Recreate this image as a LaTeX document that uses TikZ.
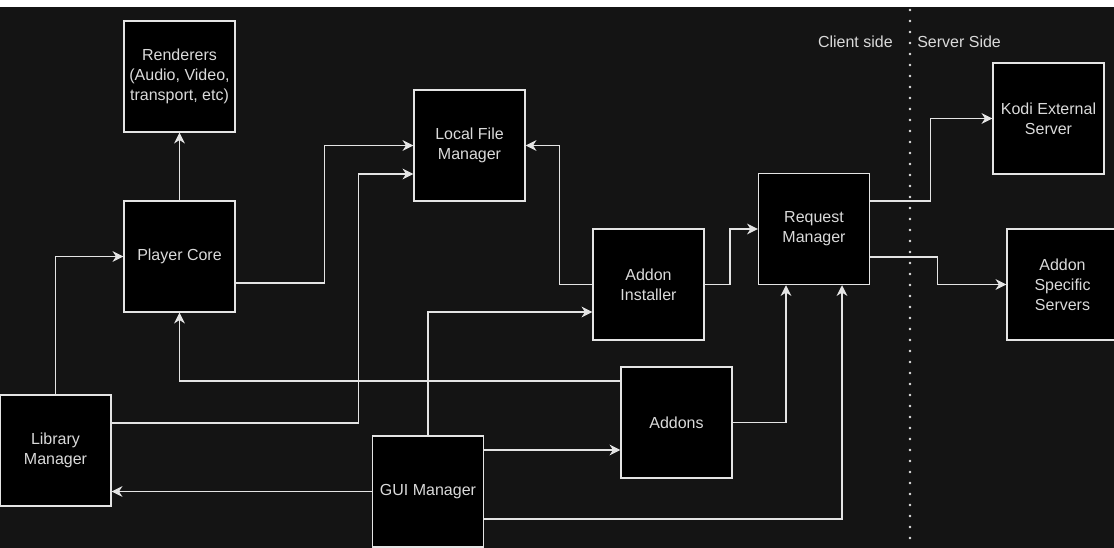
\documentclass[tikz,border=0pt]{standalone}
\usepackage{fontspec}
\setmainfont{Liberation Sans}
\usetikzlibrary{arrows.meta,calc,positioning}
\definecolor{kodibg}{RGB}{20,20,20}
\definecolor{kodiline}{RGB}{228,228,228}
\definecolor{koditext}{RGB}{218,218,218}

\begin{document}
\begin{tikzpicture}[x=0.75pt, y=-0.75pt,
      mbox/.style={draw=kodiline, fill=black, line width=1.1pt, minimum width=83.25pt, minimum height=83.25pt, inner sep=1pt, align=center, text=koditext, font=\fontsize{12}{15}\selectfont},
      sidelbl/.style={text=koditext, inner sep=0pt, font=\fontsize{12}{15}\selectfont},
      link/.style={draw=kodiline, line width=1.1pt, -{Stealth[length=8pt,width=8pt,inset=2.5pt]}}
    ]
      % background
      \fill[kodibg] (0,0) rectangle (1114,548);
      \fill[white] (0,0) rectangle (1114,7);
      \useasboundingbox (0,0) rectangle (1114,548);

      % client side
      \node[mbox] (rend) at (179.5,76.5) {Renderers\\(Audio, Video,\\transport, etc)};
      \node[mbox] (player) at (179.5,256.5) {Player Core};
      \node[mbox] (lib) at (55.5,450.5) {Library\\Manager};
      \node[mbox] (lfm) at (469.5,145.5) {Local File\\Manager};
      \node[mbox] (inst) at (648.5,284.5) {Addon\\Installer};
      \node[mbox] (addons) at (676.5,422.5) {Addons};
      \node[mbox] (gui) at (428,491.5) {GUI Manager};
      \node[mbox] (req) at (814,229) {Request\\Manager};

      % server side
      \node[mbox] (kodi) at (1048.5,118.5) {Kodi External\\Server};
      \node[mbox] (aserv) at (1062.5,284.5) {Addon\\Specific\\Servers};

      % divider
      \coordinate (dtop) at (910,10);
      \coordinate (dbot) at (910,540);
      \draw[kodiline, line width=2pt, line cap=round, dash pattern=on 0pt off 8.25pt] (dtop) -- (dbot);
      \node[sidelbl, anchor=east] (client) at (893,42) {Client side};
      \node[sidelbl, anchor=west] (server) at (917,42) {Server Side};

      % connectors
      \draw[link] (player.north) -- (rend.south);
      \draw[link] (lib.north) |- (player.west);
      \draw[link] ($(player.east)+(0,26.5)$) -| ($(lfm.west)+(-89,0)$) -- (lfm.west);
      \draw[link] ($(lib.east)+(0,-27.5)$) -| ($(lfm.west)+(-55,28.5)$) -- ($(lfm.west)+(0,28.5)$);
      \draw[link] (inst.west) -| ($(lfm.east)+(34,0)$) -- (lfm.east);
      \draw[link] (inst.east) -| ($(req.west)+(-28,0)$) -- (req.west);
      \draw[link] (gui.north) |- ($(inst.west)+(0,27.5)$);
      \draw[link] ($(addons.west)+(0,-41.5)$) -| (player.south);
      \draw[link] ($(gui.east)+(0,-41.5)$) -- ($(addons.west)+(0,27.5)$);
      \draw[link] (addons.east) -| ($(req.south)+(-28,0)$);
      \draw[link] ($(gui.east)+(0,27.5)$) -| ($(req.south)+(28,0)$);
      \draw[link] (gui.west) -- (gui.west -| lib.east);
      \draw[link] ($(req.east)+(0,-28)$) -| ($(kodi.west)+(-62,0)$) -- (kodi.west);
      \draw[link] ($(req.east)+(0,28)$) -| ($(aserv.west)+(-69,0)$) -- (aserv.west);
    \end{tikzpicture}
\end{document}
